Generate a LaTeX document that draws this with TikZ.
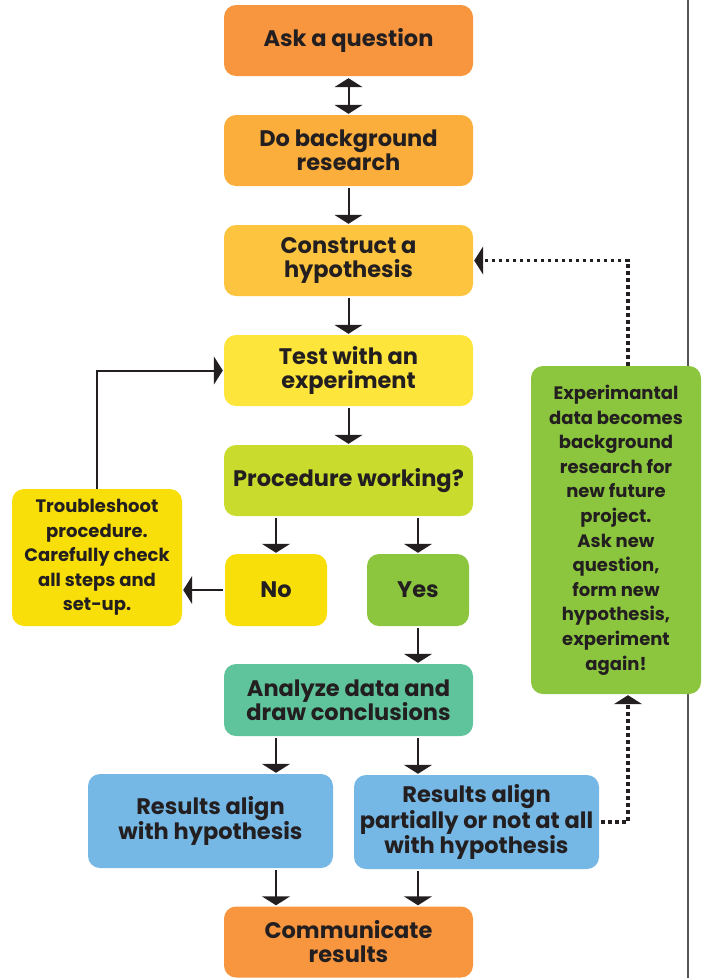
\documentclass[tikz,border=0pt]{standalone}
\usepackage{fontspec}
\setmainfont{Poppins}
\usetikzlibrary{shapes,arrows.meta,positioning}
\definecolor{txtdark}{HTML}{231F20}
\definecolor{askorange}{HTML}{F7963F}
\definecolor{readorange}{HTML}{FBAE3C}
\definecolor{hypoyellow}{HTML}{FDC43F}
\definecolor{testyellow}{HTML}{FDE53C}
\definecolor{proclime}{HTML}{C9DC2D}
\definecolor{noyellow}{HTML}{F9DF0A}
\definecolor{yesgreen}{HTML}{8CC63F}
\definecolor{analyzeteal}{HTML}{5FC39B}
\definecolor{resultblue}{HTML}{75B7E5}
\definecolor{edgegray}{HTML}{555555}

\begin{document}
\begin{tikzpicture}[x=1pt,y=-1pt,
	box/.style={rounded corners=12pt,text=txtdark,align=center,inner sep=0pt,
		font=\bfseries\fontsize{22.5}{24}\selectfont},
	smallbox/.style={box,font=\bfseries\fontsize{18}{24.6}\selectfont},
	arr/.style={-{Triangle[width=28pt,length=9pt]},line width=2pt,draw=txtdark,
		shorten <=2pt,shorten >=1pt},
	dots/.style={arr,line width=3.5pt,dash pattern=on 3.5pt off 3.5pt}]
	\useasboundingbox (0,0) rectangle (705,978);
	% the gray rule on the right
	\draw[edgegray,line width=1.5pt] (688,0) -- (688,978);
	%% the main column
	\node[box,fill=askorange,minimum width=249pt,minimum height=71pt] (ask) at (348.5,40.5) {Ask a question};
	\node[box,fill=readorange,minimum width=249pt,minimum height=71pt] (research) at (348.5,150.5) {Do background\\research};
	\node[box,fill=hypoyellow,minimum width=249pt,minimum height=71pt] (hypo) at (348.5,260.5) {Construct a\\hypothesis};
	\node[box,fill=testyellow,minimum width=249pt,minimum height=71pt] (test) at (348.5,370.5) {Test with an\\experiment};
	\node[box,fill=proclime,minimum width=249pt,minimum height=71pt] (proc) at (348.5,480.5) {Procedure working?};
	\node[box,fill=noyellow,minimum width=102pt,minimum height=72pt] (no) at (276,590) {No};
	\node[box,fill=yesgreen,minimum width=102pt,minimum height=72pt] (yes) at (418,590) {Yes};
	\node[smallbox,fill=noyellow,minimum width=170pt,minimum height=137pt] (trouble) at (97,557.5) {Troubleshoot\\procedure.\\Carefully check\\all steps and\\set-up.};
	\node[box,fill=analyzeteal,minimum width=249pt,minimum height=72pt] (analyze) at (348.5,700) {Analyze data and\\draw conclusions};
	\node[box,fill=resultblue,minimum width=245pt,minimum height=94pt] (alignyes) at (210.5,821) {Results align\\with hypothesis};
	\node[box,fill=resultblue,minimum width=245pt,minimum height=94pt] (alignno) at (476.5,822) {Results align\\partially or not at all\\with hypothesis};
	\node[box,fill=askorange,minimum width=249pt,minimum height=71pt] (share) at (348.5,942) {Communicate\\results};
	\node[smallbox,fill=yesgreen,minimum width=170pt,minimum height=328pt] (future) at (616,530) {Experimantal\\data becomes\\background\\research for\\new future\\project.\\Ask new\\question,\\form new\\hypothesis,\\experiment\\again!};
	\coordinate (loopx) at (628,0);
	%% the arrows
	\draw[arr,{Triangle[width=28pt,length=9pt]}-{Triangle[width=28pt,length=9pt]}] (ask) -- (research);
	\draw[arr] (research) -- (hypo);
	\draw[arr] (hypo) -- (test);
	\draw[arr] (test) -- (proc);
	\draw[arr] (proc.south -| no.north) -- (no.north);
	\draw[arr] (proc.south -| yes.north) -- (yes.north);
	\draw[arr] (no.west) -- (no.west -| trouble.east);
	\draw[arr,shorten <=0pt] (trouble.north) |- (test.west);
	\draw[arr] (yes.south) -- (yes.south |- analyze.north);
	\draw[arr] (analyze.south -| no.south) -- (no.south |- alignyes.north);
	\draw[arr] (analyze.south -| yes.south) -- (yes.south |- alignno.north);
	\draw[arr] (alignyes.south -| no.south) -- (no.south |- share.north);
	\draw[arr] (alignno.south -| yes.south) -- (yes.south |- share.north);
	%% the dotted loop back
	\draw[dots] (alignno.east) -| (loopx |- future.south);
	\draw[dots,shorten <=0pt] (loopx |- future.north) |- (hypo.east);
\end{tikzpicture}
\end{document}
